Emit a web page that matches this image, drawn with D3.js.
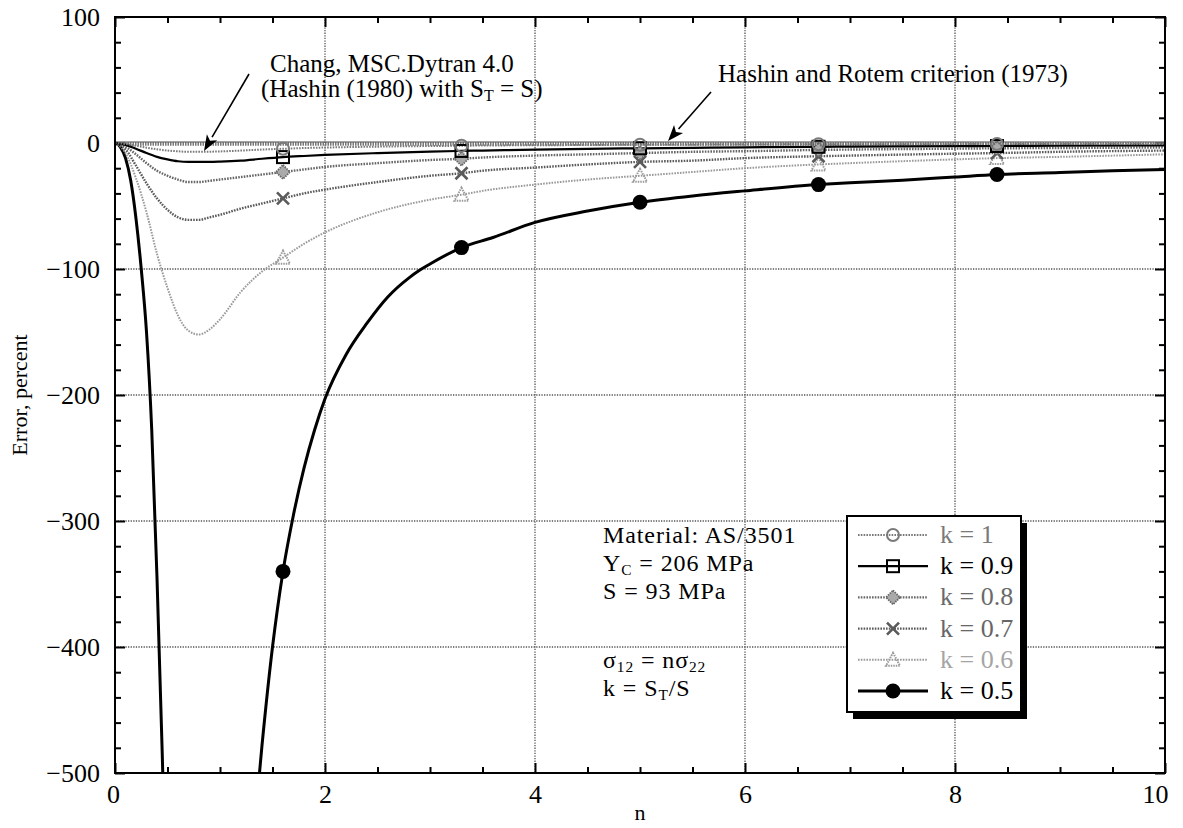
<!DOCTYPE html>
<html>
<head>
<meta charset="utf-8">
<script src="https://cdn.jsdelivr.net/npm/d3@7"></script>
<style>
  html, body { margin: 0; padding: 0; background: #fff; }
  svg { display: block; font-family: "Liberation Serif", "Times New Roman", serif; }
</style>
</head>
<body>
<svg id="chart" width="1183" height="828"></svg>
<script>
// Load ratio n = sigma12 / sigma22
const nGrid = [0, 0.1, 0.2, 0.3, 0.4, 0.5, 0.6, 0.7, 0.8, 0.9, 1.0, 1.2, 1.4, 1.6, 1.8, 2.0,
  2.5, 3.0, 3.3, 3.5, 4.0, 4.5, 5.0, 5.5, 6.0, 6.7, 7.0, 8.0, 8.4, 9.0, 10.0];

// Error, percent, for each k = S_T / S
const errK10 = [0, -0.8, -2.2, -3.7, -5, -6, -6.6, -7, -7, -6.9, -6.7, -6, -5.2, -4.6, -4, -3.6,
  -2.9, -2.4, -2.2, -2, -1.8, -1.6, -1.4, -1.3, -1.2, -1, -1, -0.9, -0.8, -0.8, -0.7];
const errK09 = [0, -1.5, -4.5, -8, -11, -13, -14.5, -15, -15, -15, -14.8, -14, -12.5, -11.2, -10.3, -9.5,
  -8, -6.8, -6.3, -6, -5.2, -4.6, -4.2, -3.8, -3.4, -3, -2.9, -2.5, -2.4, -2.2, -2];
const errK08 = [0, -3, -9, -16, -22, -26, -29, -31, -31, -30, -29, -27, -25, -23, -21, -19,
  -16, -13.5, -12.5, -11.5, -10, -9, -8, -7, -6.5, -5.5, -5.2, -4.5, -4.2, -4, -3.5];
const errK07 = [0, -5, -18, -32, -44, -53, -59, -61, -61, -59, -57, -52, -48, -44, -40, -37,
  -31, -26, -24, -22, -19.5, -17, -15, -14, -12, -10.5, -10, -8.5, -8, -7, -6];
const errK06 = [0, -8, -28, -55, -88, -115, -137, -149, -152, -148, -140, -118, -102, -91, -80, -71,
  -55, -45, -41, -38, -33, -29, -26, -23, -20, -17, -16, -13, -12, -11, -9];

// k = 0.5 has a singularity between the two branches
const nK05Left = [0, 0.05, 0.1, 0.15, 0.2, 0.25, 0.3, 0.35, 0.4, 0.45, 0.5];
const errK05Left = [0, -3, -12, -30, -60, -100, -150, -228, -345, -485, -640];
const nK05Right = [1.3, 1.4, 1.5, 1.6, 1.7, 1.8, 1.9, 2.0, 2.2, 2.4, 2.6, 2.8, 2.9, 3.0, 3.3, 3.6,
  4.0, 4.5, 5.0, 5.5, 6.0, 6.7, 7.0, 7.5, 8.0, 8.4, 9.0, 9.5, 10.0];
const errK05Right = [-570, -478, -400, -340, -295, -258, -228, -203, -168, -143, -122, -107, -101, -96, -83, -75,
  -63, -54, -47, -42, -38, -33, -31.5, -29.5, -27, -25, -23.5, -22, -21];

// Reference criterion (zero error line)
const nRef = [0, 10];
const errRef = [0, 0];

const markerN = [1.6, 3.3, 5.0, 6.7, 8.4];
const seriesLabels = ["k = 1", "k = 0.9", "k = 0.8", "k = 0.7", "k = 0.6", "k = 0.5"];
const xTicks = [0, 2, 4, 6, 8, 10];
const yTicks = [100, 0, -100, -200, -300, -400, -500];

const svg = d3.select("#chart");
const mLeft = 115, mRight = 1165, mTop = 17, mBottom = 773;

const x = d3.scaleLinear().domain([0, 10]).range([mLeft, mRight]);
const y = d3.scaleLinear().domain([-500, 100]).range([mBottom, mTop]);

const FONT = 26;

// Clip
svg.append("defs").append("clipPath").attr("id", "plotClip")
  .append("rect").attr("x", mLeft).attr("y", mTop).attr("width", mRight - mLeft).attr("height", mBottom - mTop);

// Grid
const grid = svg.append("g");
grid.selectAll("line.gx").data(xTicks.filter(d => d > 0 && d < 10)).join("line")
  .attr("x1", d => x(d)).attr("x2", d => x(d)).attr("y1", mTop).attr("y2", mBottom)
  .attr("stroke", "#555").attr("stroke-width", 1.3).attr("stroke-dasharray", "1.3,1.3");
grid.selectAll("line.gy").data(yTicks.filter(d => d < 100 && d > -500 && d !== 0)).join("line")
  .attr("x1", mLeft).attr("x2", mRight).attr("y1", d => y(d)).attr("y2", d => y(d))
  .attr("stroke", "#555").attr("stroke-width", 1.3).attr("stroke-dasharray", "1.3,1.3");

// Axes with inward major and minor ticks on all four sides
function styleAxis(g) {
  g.select(".domain").remove();
  g.selectAll(".tick line").attr("stroke", "#000").attr("stroke-width", 2);
  g.selectAll(".tick text").attr("font-size", FONT).attr("fill", "#000")
    .attr("font-family", "'Liberation Serif', 'Times New Roman', serif");
}
const xMinor = d3.range(0, 10.001, 0.5).filter(v => Math.abs(v / 2 - Math.round(v / 2)) > 1e-6);
const yMinor = d3.range(-500, 100.001, 20).filter(v => v % 100 !== 0);

const xAxisG = svg.append("g").attr("transform", `translate(0,${mBottom})`)
  .call(d3.axisBottom(x).tickValues(xTicks).tickSize(-10).tickPadding(12).tickFormat(d3.format("d")))
  .call(styleAxis);
// keep the end labels inside the frame
xAxisG.selectAll(".tick text").filter(d => d === 10).attr("text-anchor", "end").attr("x", 3);
xAxisG.selectAll(".tick text").filter(d => d === 0).attr("x", -2);

svg.append("g").attr("transform", `translate(0,${mBottom})`)
  .call(d3.axisBottom(x).tickValues(xMinor).tickSize(-6).tickFormat(""))
  .call(styleAxis);
svg.append("g").attr("transform", `translate(0,${mTop})`)
  .call(d3.axisTop(x).tickValues(xTicks).tickSize(-10).tickFormat(""))
  .call(styleAxis);
svg.append("g").attr("transform", `translate(0,${mTop})`)
  .call(d3.axisTop(x).tickValues(xMinor).tickSize(-6).tickFormat(""))
  .call(styleAxis);
svg.append("g").attr("transform", `translate(${mLeft},0)`)
  .call(d3.axisLeft(y).tickValues(yTicks).tickSize(-10).tickPadding(15))
  .call(styleAxis);
svg.append("g").attr("transform", `translate(${mLeft},0)`)
  .call(d3.axisLeft(y).tickValues(yMinor).tickSize(-6).tickFormat(""))
  .call(styleAxis);
svg.append("g").attr("transform", `translate(${mRight},0)`)
  .call(d3.axisRight(y).tickValues(yTicks).tickSize(-10).tickFormat(""))
  .call(styleAxis);
svg.append("g").attr("transform", `translate(${mRight},0)`)
  .call(d3.axisRight(y).tickValues(yMinor).tickSize(-6).tickFormat(""))
  .call(styleAxis);

// Series definitions
const series = [
  { label: seriesLabels[0], pts: [nGrid.map((n, i) => [n, errK10[i]])], stroke: "#7a7a7a", width: 2, dash: "1.6,1.2", marker: "circle", text: "#7a7a7a" },
  { label: seriesLabels[1], pts: [nGrid.map((n, i) => [n, errK09[i]])], stroke: "#000", width: 2.2, dash: null, marker: "square", text: "#000" },
  { label: seriesLabels[2], pts: [nGrid.map((n, i) => [n, errK08[i]])], stroke: "#666", width: 2.4, dash: "1.6,1.2", marker: "diamond", text: "#6a6a6a" },
  { label: seriesLabels[3], pts: [nGrid.map((n, i) => [n, errK07[i]])], stroke: "#5a5a5a", width: 2.4, dash: "1.6,1.2", marker: "x", text: "#666" },
  { label: seriesLabels[4], pts: [nGrid.map((n, i) => [n, errK06[i]])], stroke: "#9a9a9a", width: 2, dash: "1.6,1.2", marker: "triangle", text: "#a5a5a5" },
  { label: seriesLabels[5], pts: [nK05Left.map((n, i) => [n, errK05Left[i]]), nK05Right.map((n, i) => [n, errK05Right[i]])], stroke: "#000", width: 3, dash: null, marker: "dot", text: "#000" }
];

const line = d3.line().x(d => x(d[0])).y(d => y(d[1])).curve(d3.curveMonotoneX);
const plot = svg.append("g").attr("clip-path", "url(#plotClip)");

// Zero reference line (Hashin and Rotem)
const refPts = nRef.map((n, i) => [n, errRef[i]]);
plot.append("path").datum(refPts)
  .attr("d", d3.line().x(d => x(d[0])).y(d => y(d[1]) + 1))
  .attr("fill", "none").attr("stroke", "#777").attr("stroke-width", 3.5).attr("stroke-dasharray", "1.5,1");
plot.append("path").datum(refPts)
  .attr("d", d3.line().x(d => x(d[0])).y(d => y(d[1]) - 1))
  .attr("fill", "none").attr("stroke", "#444").attr("stroke-width", 1);

function drawMarker(g, type, cx, cy) {
  const s = series.find(d => d.marker === type);
  const col = s.stroke;
  if (type === "circle") {
    g.append("circle").attr("cx", cx).attr("cy", cy).attr("r", 6)
      .attr("fill", "none").attr("stroke", col).attr("stroke-width", 2);
  } else if (type === "square") {
    g.append("rect").attr("x", cx - 6).attr("y", cy - 6).attr("width", 12).attr("height", 12)
      .attr("fill", "none").attr("stroke", "#000").attr("stroke-width", 2);
  } else if (type === "diamond") {
    g.append("path").attr("d", `M${cx},${cy - 7}L${cx + 7},${cy}L${cx},${cy + 7}L${cx - 7},${cy}Z`)
      .attr("fill", "#aaa").attr("stroke", col).attr("stroke-width", 1.8).attr("stroke-dasharray", "1.5,1");
  } else if (type === "x") {
    g.append("path").attr("d", `M${cx - 6},${cy - 6}L${cx + 6},${cy + 6}M${cx - 6},${cy + 6}L${cx + 6},${cy - 6}`)
      .attr("stroke", col).attr("stroke-width", 2.6);
  } else if (type === "triangle") {
    g.append("path").attr("d", `M${cx},${cy - 7}L${cx + 7},${cy + 6}L${cx - 7},${cy + 6}Z`)
      .attr("fill", "none").attr("stroke", col).attr("stroke-width", 2).attr("stroke-dasharray", "1.5,1");
  } else if (type === "dot") {
    g.append("circle").attr("cx", cx).attr("cy", cy).attr("r", 7.5).attr("fill", "#000");
  }
}

// Draw series lines (lowest first so the lighter ones stay visible)
series.slice().reverse().forEach(s => {
  s.pts.forEach(branch => {
    const p = plot.append("path").datum(branch).attr("d", line)
      .attr("fill", "none").attr("stroke", s.stroke).attr("stroke-width", s.width)
      .attr("stroke-linejoin", "round");
    if (s.dash) p.attr("stroke-dasharray", s.dash);
  });
});
series.slice().reverse().forEach(s => {
  const all = s.pts.flat();
  markerN.forEach(mn => {
    const pt = all.find(d => Math.abs(d[0] - mn) < 1e-6);
    if (pt && pt[1] >= -500) drawMarker(plot, s.marker, x(pt[0]), y(pt[1]));
  });
});

// Frame
svg.append("rect").attr("x", mLeft).attr("y", mTop).attr("width", mRight - mLeft).attr("height", mBottom - mTop)
  .attr("fill", "none").attr("stroke", "#000").attr("stroke-width", 2);

// Axis titles
svg.append("text").attr("transform", `translate(27,${y(-200)}) rotate(-90)`)
  .attr("text-anchor", "middle").attr("font-size", 22).text("Error, percent");
svg.append("text").attr("x", x(5)).attr("y", 820).attr("text-anchor", "middle")
  .attr("font-size", 22).text("n");

// Annotations with arrows
function arrow(x1, y1, x2, y2) {
  const ang = Math.atan2(y2 - y1, x2 - x1);
  const L = 16, Wd = 6;
  const bx = x2 - L * Math.cos(ang), by = y2 - L * Math.sin(ang);
  svg.append("line").attr("x1", x1).attr("y1", y1).attr("x2", bx).attr("y2", by)
    .attr("stroke", "#000").attr("stroke-width", 1.6);
  const px = -Math.sin(ang) * Wd, py = Math.cos(ang) * Wd;
  svg.append("path").attr("d", `M${x2},${y2}L${bx + px},${by + py}L${bx + L * 0.25 * Math.cos(ang)},${by + L * 0.25 * Math.sin(ang)}L${bx - px},${by - py}Z`)
    .attr("fill", "#000");
}

// Text with subscript runs; each run shifts the baseline relative to the previous one
function richText(xp, yp, parts, size, spacing) {
  const t = svg.append("text").attr("x", xp).attr("y", yp).attr("font-size", size);
  if (spacing) t.attr("letter-spacing", spacing);
  const SUB = 4;
  let shift = 0;
  parts.forEach(p => {
    const target = p.sub ? SUB : 0;
    const ts = t.append("tspan").text(p.t);
    if (target !== shift) ts.attr("dy", target - shift);
    if (p.sub) ts.attr("font-size", size * 0.64);
    shift = target;
  });
  return t;
}

richText(270, 72, [{ t: "Chang, MSC.Dytran 4.0" }], 25);
richText(261, 97, [{ t: "(Hashin (1980) with S" }, { t: "T", sub: true }, { t: " = S)" }], 25);
arrow(249, 74, 204, 151);

richText(718, 82, [{ t: "Hashin and Rotem criterion (1973)" }], 25);
arrow(711, 92, 668, 141);

const MAT = 24, MATSP = 0.9;
richText(603, 543, [{ t: "Material: AS/3501" }], MAT, MATSP);
richText(603, 571, [{ t: "Y" }, { t: "C", sub: true }, { t: " = 206 MPa" }], MAT, MATSP);
richText(603, 599, [{ t: "S = 93 MPa" }], MAT, MATSP);
richText(603, 668, [{ t: "σ" }, { t: "12", sub: true }, { t: " = nσ" }, { t: "22", sub: true }], MAT, MATSP);
richText(603, 696, [{ t: "k = S" }, { t: "T", sub: true }, { t: "/S" }], MAT, MATSP);

// Legend
const lg = svg.append("g");
const bx0 = 847, by0 = 516, bw = 174, bh = 196;
lg.append("rect").attr("x", bx0 + 6).attr("y", by0 + 7).attr("width", bw).attr("height", bh).attr("fill", "#000");
lg.append("rect").attr("x", bx0).attr("y", by0).attr("width", bw).attr("height", bh)
  .attr("fill", "#fff").attr("stroke", "#000").attr("stroke-width", 2);
series.forEach((s, i) => {
  const cy = 535 + i * 31.2;
  const l = lg.append("line").attr("x1", 858).attr("x2", 928).attr("y1", cy).attr("y2", cy)
    .attr("stroke", s.stroke).attr("stroke-width", s.width);
  if (s.dash) l.attr("stroke-dasharray", s.dash);
  drawMarker(lg, s.marker, 893, cy);
  lg.append("text").attr("x", 940).attr("y", cy + 8).attr("font-size", FONT)
    .attr("fill", s.text).text(s.label);
});
</script>
</body>
</html>
